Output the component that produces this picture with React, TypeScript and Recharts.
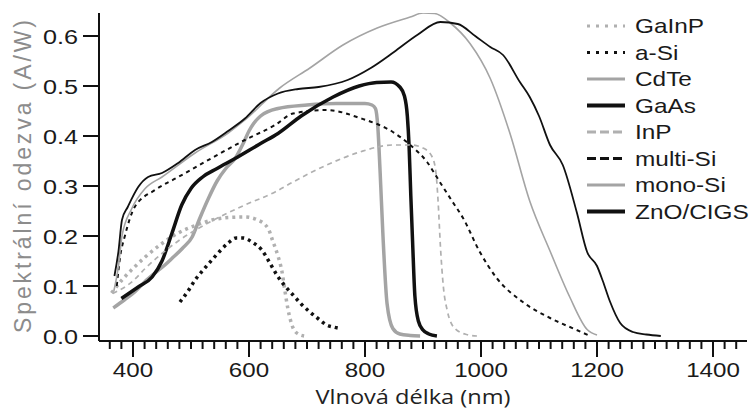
import { LineChart, Line, XAxis, YAxis, Legend } from "recharts";

// wavelength (nm) and spectral response (A/W)
const gainpNm = [363, 381, 400, 421, 450, 478, 510, 536, 565, 593, 615, 633, 641, 650, 657, 662, 667, 676, 685, 695];
const gainpVal = [0.086, 0.112, 0.135, 0.158, 0.185, 0.206, 0.222, 0.232, 0.237, 0.238, 0.232, 0.215, 0.19, 0.16, 0.128, 0.09, 0.055, 0.016, 0.004, 0];

const asiNm = [481, 495, 507, 521, 536, 550, 564, 578, 590, 605, 622, 635, 648, 662, 676, 690, 705, 720, 734, 745, 757];
const asiVal = [0.068, 0.09, 0.112, 0.132, 0.152, 0.17, 0.186, 0.196, 0.196, 0.188, 0.172, 0.148, 0.122, 0.1, 0.082, 0.064, 0.048, 0.034, 0.022, 0.018, 0.015];

const cdteNm = [366, 385, 403, 420, 438, 455, 467, 485, 502, 515, 530, 545, 560, 576, 590, 600, 608, 620, 650, 700, 750, 800, 812, 818, 822, 826, 831, 838, 848, 860, 878, 895];
const cdteVal = [0.056, 0.072, 0.088, 0.108, 0.126, 0.142, 0.155, 0.175, 0.198, 0.235, 0.275, 0.31, 0.335, 0.355, 0.385, 0.41, 0.425, 0.44, 0.455, 0.462, 0.465, 0.465, 0.462, 0.455, 0.42, 0.33, 0.2, 0.065, 0.015, 0.004, 0.001, 0];

const gaasNm = [380, 409, 433, 450, 467, 484, 500, 520, 545, 576, 620, 650, 690, 745, 790, 820, 845, 860, 868, 873, 876, 879, 882, 886, 892, 900, 910, 924];
const gaasVal = [0.075, 0.098, 0.118, 0.15, 0.205, 0.262, 0.295, 0.318, 0.335, 0.355, 0.385, 0.405, 0.44, 0.478, 0.5, 0.507, 0.508, 0.498, 0.48, 0.44, 0.38, 0.28, 0.19, 0.08, 0.03, 0.012, 0.004, 0];

const inpNm = [365, 400, 421, 478, 536, 593, 645, 676, 734, 791, 848, 880, 900, 915, 922, 926, 930, 935, 942, 955, 975, 993];
const inpVal = [0.085, 0.11, 0.135, 0.19, 0.23, 0.262, 0.288, 0.308, 0.342, 0.368, 0.382, 0.382, 0.376, 0.36, 0.33, 0.27, 0.18, 0.1, 0.05, 0.015, 0.003, 0];

const multiNm = [372, 378, 386, 403, 438, 478, 536, 593, 645, 676, 734, 791, 848, 878, 907, 929, 950, 969, 998, 1027, 1072, 1119, 1165, 1188];
const multiVal = [0.1, 0.16, 0.2, 0.258, 0.292, 0.318, 0.356, 0.392, 0.422, 0.445, 0.452, 0.436, 0.408, 0.382, 0.348, 0.308, 0.27, 0.236, 0.168, 0.116, 0.068, 0.036, 0.012, 0];

const monoNm = [367, 375, 381, 398, 421, 450, 507, 564, 593, 653, 705, 762, 821, 878, 900, 920, 947, 981, 1016, 1050, 1084, 1119, 1153, 1183, 1200];
const monoVal = [0.09, 0.14, 0.2, 0.255, 0.295, 0.318, 0.366, 0.406, 0.432, 0.496, 0.536, 0.582, 0.616, 0.638, 0.646, 0.645, 0.626, 0.585, 0.515, 0.405, 0.27, 0.17, 0.078, 0.013, 0.002];

const cigsNm = [368, 375, 381, 391, 409, 426, 450, 478, 507, 536, 564, 593, 620, 650, 685, 720, 770, 810, 850, 890, 930, 960, 990, 1016, 1038, 1067, 1084, 1100, 1119, 1141, 1165, 1183, 1200, 1210, 1222, 1240, 1262, 1285, 1310];
const cigsVal = [0.12, 0.17, 0.232, 0.258, 0.298, 0.318, 0.326, 0.346, 0.372, 0.388, 0.41, 0.435, 0.466, 0.485, 0.494, 0.498, 0.512, 0.536, 0.568, 0.602, 0.628, 0.624, 0.6, 0.578, 0.562, 0.508, 0.478, 0.44, 0.382, 0.342, 0.248, 0.168, 0.14, 0.11, 0.07, 0.026, 0.008, 0.003, 0];

const xMajorTicks = [400, 600, 800, 1000, 1200, 1400];
const yTicks = [0, 0.1, 0.2, 0.3, 0.4, 0.5, 0.6];

const xMinorTicks: number[] = [];
for (let t = 360; t <= 1440; t += 20) xMinorTicks.push(t);

const toPoints = (nm: number[], val: number[]) => nm.map((x, i) => ({ nm: x, v: val[i] }));

const FONT = '"Liberation Sans", Arial, sans-serif';
const LIGHT = "#b0b0b0";
const GREY = "#a4a4a4";
const DARK = "#111";

const series = [
  { name: "GaInP", data: toPoints(gainpNm, gainpVal), stroke: LIGHT, width: 3.5, dash: "3 4", lw: 3, ldash: "3 6" },
  { name: "a-Si", data: toPoints(asiNm, asiVal), stroke: DARK, width: 3.5, dash: "3 4", lw: 3, ldash: "3 6" },
  { name: "CdTe", data: toPoints(cdteNm, cdteVal), stroke: GREY, width: 3.5, dash: undefined, lw: 3, ldash: undefined },
  { name: "GaAs", data: toPoints(gaasNm, gaasVal), stroke: DARK, width: 3.5, dash: undefined, lw: 4, ldash: undefined },
  { name: "InP", data: toPoints(inpNm, inpVal), stroke: LIGHT, width: 1.7, dash: "5 4", lw: 3, ldash: "9 4" },
  { name: "multi-Si", data: toPoints(multiNm, multiVal), stroke: DARK, width: 2, dash: "4 4", lw: 3, ldash: "9 4" },
  { name: "mono-Si", data: toPoints(monoNm, monoVal), stroke: GREY, width: 1.6, dash: undefined, lw: 3, ldash: undefined },
  { name: "ZnO/CIGS", data: toPoints(cigsNm, cigsVal), stroke: DARK, width: 1.8, dash: undefined, lw: 4, ldash: undefined },
];

function XTick({ x, y, payload }: any) {
  const v = payload.value;
  const major = xMajorTicks.includes(v);
  return (
    <g>
      <line x1={x} x2={x} y1={y} y2={y + (major ? 16 : 8)} stroke={DARK} strokeWidth={2} />
      {major && (
        <text
          transform={`translate(${x},${y + 36}) scale(1.15,1)`}
          textAnchor="middle"
          fontSize={21}
          fontFamily={FONT}
          fill="#1a1a1a"
        >
          {v}
        </text>
      )}
    </g>
  );
}

function YTick({ x, y, payload }: any) {
  return (
    <g>
      <line x1={x - 16} x2={x} y1={y} y2={y} stroke={DARK} strokeWidth={2} />
      <text
        transform={`translate(${x - 21},${y + 7.5}) scale(1.2,1)`}
        textAnchor="end"
        fontSize={21}
        fontFamily={FONT}
        fill="#1a1a1a"
      >
        {payload.value.toFixed(1)}
      </text>
    </g>
  );
}

function XLabel({ viewBox }: any) {
  const cx = viewBox.x + viewBox.width / 2 - 10;
  return (
    <text
      transform={`translate(${cx},404) scale(1.18,1)`}
      textAnchor="middle"
      fontSize={20}
      fontFamily='"Open Sans", sans-serif'
      fill="#222"
    >
      Vlnová délka (nm)
    </text>
  );
}

function YLabel() {
  return (
    <text
      transform="translate(31,176.5) rotate(-90)"
      textAnchor="middle"
      fontSize={23}
      fontFamily={FONT}
      fill="#8c8c8c"
      textLength={313}
      lengthAdjust="spacing"
    >
      Spektrální odezva (A/W)
    </text>
  );
}

function LegendBox() {
  return (
    <svg width={170} height={225} style={{ display: "block" }}>
      {series.map((s, i) => {
        const cy = 12 + i * 26.5;
        return (
          <g key={s.name}>
            <line x1={2} x2={40} y1={cy} y2={cy} stroke={s.stroke} strokeWidth={s.lw} strokeDasharray={s.ldash} />
            <text
              transform={`translate(50,${cy + 7}) scale(1.22,1)`}
              fontSize={20}
              fontFamily={FONT}
              fill="#1a1a1a"
            >
              {s.name}
            </text>
          </g>
        );
      })}
    </svg>
  );
}

export default function App() {
  return (
    <div style={{ position: "absolute", left: 0, top: 0, width: 755, height: 409, background: "#fff" }}>
      <LineChart width={755} height={409} margin={{ top: 13, right: 8, left: 0, bottom: 0 }}>
        <XAxis
          type="number"
          dataKey="nm"
          domain={[341.4, 1458.6]}
          allowDataOverflow
          ticks={xMinorTicks}
          interval={0}
          tick={<XTick />}
          tickLine={false}
          tickSize={0}
          tickMargin={0}
          height={68}
          axisLine={{ stroke: DARK, strokeWidth: 2 }}
          label={<XLabel />}
        />
        <YAxis
          type="number"
          domain={[-0.01, 0.646]}
          allowDataOverflow
          ticks={yTicks}
          interval={0}
          tick={<YTick />}
          tickLine={false}
          tickSize={0}
          tickMargin={0}
          width={99}
          axisLine={{ stroke: DARK, strokeWidth: 2 }}
          label={<YLabel />}
        />
        <Legend
          layout="vertical"
          align="center"
          verticalAlign="middle"
          content={<LegendBox />}
          wrapperStyle={{ left: 585, top: 14, width: 170, height: 225 }}
        />
        {series.map((s) => (
          <Line
            key={s.name}
            data={s.data}
            dataKey="v"
            name={s.name}
            type="monotone"
            stroke={s.stroke}
            strokeWidth={s.width}
            strokeDasharray={s.dash}
            dot={false}
            activeDot={false}
            isAnimationActive={false}
          />
        ))}
      </LineChart>
    </div>
  );
}
